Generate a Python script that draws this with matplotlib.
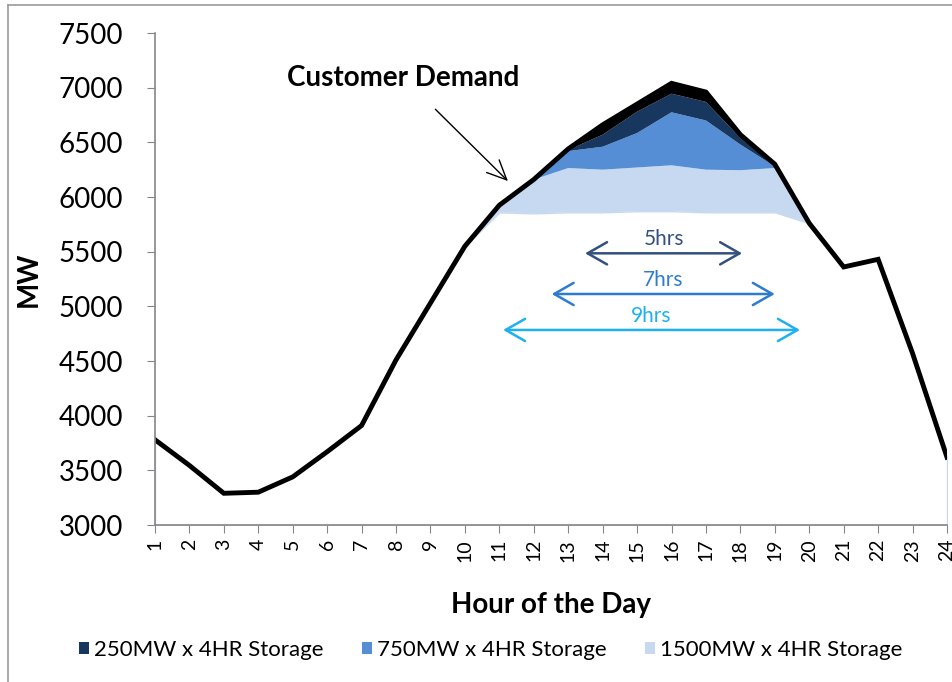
import matplotlib
matplotlib.use("Agg")
import matplotlib.pyplot as plt
from matplotlib.patches import Patch
from matplotlib.lines import Line2D

plt.rcParams['font.family'] = ['Lato', 'DejaVu Sans']

hours = list(range(1, 25))
hour_labels = [str(h) for h in hours]

# customer demand (MW)
demand = [3780, 3545, 3290, 3300, 3440, 3670, 3910, 4510, 5030, 5550, 5925, 6160,
          6440, 6660, 6850, 7040, 6960, 6570, 6300, 5760, 5360, 5430, 4570, 3620]

# levels of the stacked storage bands
base = [3780, 3545, 3290, 3300, 3440, 3670, 3910, 4510, 5030, 5550, 5860, 5850,
        5860, 5860, 5870, 5870, 5860, 5860, 5860, 5760, 5360, 5430, 4570, 3620]
top_1500 = [3780, 3545, 3290, 3300, 3440, 3670, 3910, 4510, 5030, 5550, 5925, 6160,
            6265, 6250, 6270, 6290, 6250, 6245, 6265, 5760, 5360, 5430, 4570, 3620]
top_750 = [3780, 3545, 3290, 3300, 3440, 3670, 3910, 4510, 5030, 5550, 5925, 6160,
           6420, 6460, 6585, 6775, 6700, 6480, 6280, 5760, 5360, 5430, 4570, 3620]
top_250 = [3780, 3545, 3290, 3300, 3440, 3670, 3910, 4510, 5030, 5550, 5925, 6160,
           6430, 6570, 6780, 6945, 6870, 6540, 6290, 5760, 5360, 5430, 4570, 3620]

labels = ['250MW x 4HR Storage', '750MW x 4HR Storage', '1500MW x 4HR Storage']
colors = ['#17375e', '#558ed5', '#c6d9f1']

# duration arrows: label, start hour, end hour, MW level, colour
spans = [('5hrs', 13.49, 18.05, 5485, '#34507f'),
         ('7hrs', 12.52, 19.0, 5113, '#2e7bcf'),
         ('9hrs', 11.11, 19.73, 4784, '#1eb0ef')]

fig = plt.figure(figsize=(9.53, 6.82), dpi=100)
ax = fig.add_axes([0.1626, 0.2302, 0.8311, 0.7214])

ax.fill_between(hours, 3000, base, facecolor='white', edgecolor='#c6d9f1', lw=1)
ax.fill_between(hours, base, top_1500, facecolor=colors[2], lw=0)
ax.fill_between(hours, top_1500, top_750, facecolor=colors[1], lw=0)
ax.fill_between(hours, top_750, top_250, facecolor=colors[0], lw=0)
ax.fill_between(hours, top_250, demand, facecolor='black', lw=0)
ax.plot(hours, demand, color='black', lw=3.5, solid_joinstyle='miter')

for txt, x0, x1, y, c in spans:
    ax.annotate('', xy=(x0, y), xytext=(x1, y),
                arrowprops=dict(arrowstyle='<->,head_length=1.4,head_width=0.8',
                                color=c, lw=1.8, shrinkA=0, shrinkB=0))
    ax.text((x0 + x1) / 2, y + 40, txt, color=c, fontsize=15, ha='center', va='bottom')

ax.annotate('Customer Demand', xy=(11.25, 6146), xytext=(8.22, 7090),
            fontsize=20, fontweight='bold', ha='center', va='center',
            arrowprops=dict(arrowstyle='->,head_length=0.7,head_width=0.32',
                            color='black', lw=1, shrinkA=16, shrinkB=0))

ax.set_xlim(1, 24)
ax.set_ylim(3000, 7500)
ax.set_xticks(hours)
ax.set_xticklabels(hour_labels, rotation=90, fontsize=14)
ax.set_yticks(range(3000, 7501, 500))
ax.tick_params(axis='y', labelsize=20, length=6, color='#868686', pad=17)
ax.tick_params(axis='x', length=6, color='#868686', pad=4)
for s in ['top', 'right']:
    ax.spines[s].set_visible(False)
for s in ['left', 'bottom']:
    ax.spines[s].set_color('#868686')
    ax.spines[s].set_linewidth(1.2)

ax.set_xlabel('Hour of the Day', fontsize=20, fontweight='bold', labelpad=22)
ax.set_ylabel('MW', fontsize=20, fontweight='bold', labelpad=12)

handles = [Patch(facecolor=c, edgecolor='none') for c in colors]
fig.legend(handles, labels, loc='center', bbox_to_anchor=(0.515, 0.047), ncol=3,
           frameon=False, fontsize=16, handlelength=0.45, handleheight=0.45,
           handletextpad=0.25, columnspacing=1.7)

# outer chart frame
fig.add_artist(Line2D([8 / 953, 8 / 953], [0, 1 - 5 / 682], color='#999999', lw=1.2))
fig.add_artist(Line2D([8 / 953, 1], [1 - 5 / 682, 1 - 5 / 682], color='#999999', lw=1.2))

fig.savefig('out.png', dpi=100)
